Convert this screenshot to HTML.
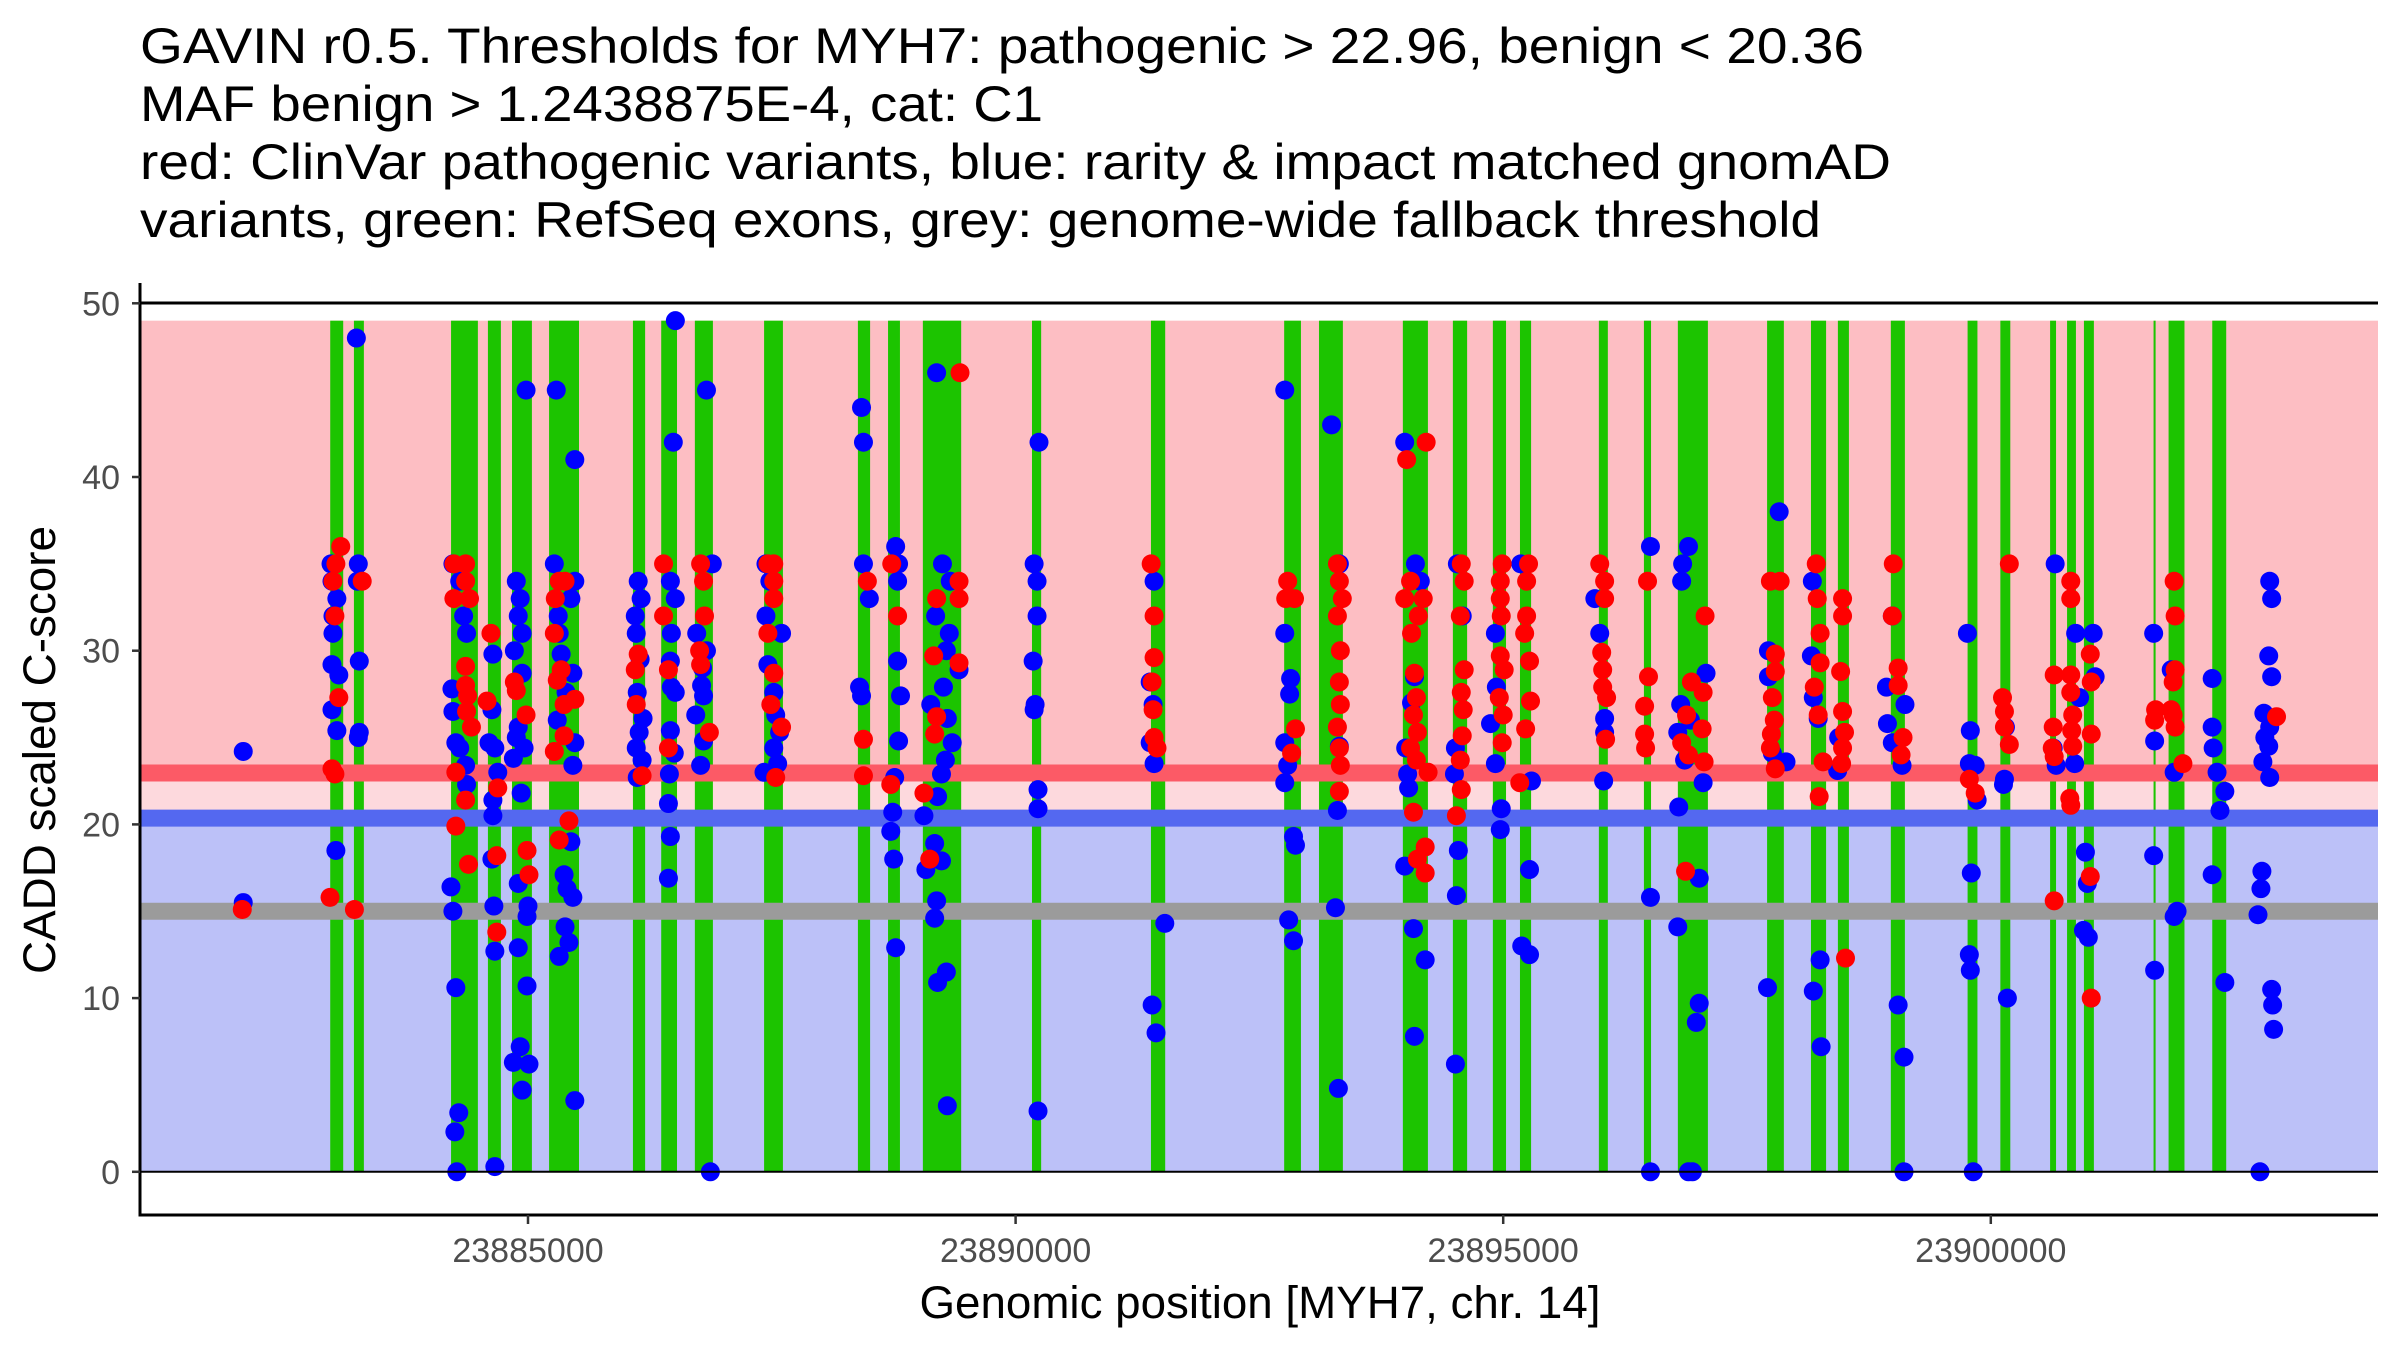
<!DOCTYPE html>
<html><head><meta charset="utf-8"><style>
html,body{margin:0;padding:0;background:#fff;}
svg{display:block;font-family:"Liberation Sans",Arial,sans-serif;}
</style></head><body>
<svg id="chart" width="2400" height="1350" viewBox="0 0 2400 1350" xmlns="http://www.w3.org/2000/svg">
<g font-size="50" fill="#000">
<text x="140" y="63" textLength="1724" lengthAdjust="spacingAndGlyphs">GAVIN r0.5. Thresholds for MYH7: pathogenic &gt; 22.96, benign &lt; 20.36</text>
<text x="140" y="121" textLength="903" lengthAdjust="spacingAndGlyphs">MAF benign &gt; 1.2438875E-4, cat: C1</text>
<text x="140" y="179" textLength="1751" lengthAdjust="spacingAndGlyphs">red: ClinVar pathogenic variants, blue: rarity &amp; impact matched gnomAD</text>
<text x="140" y="237" textLength="1681" lengthAdjust="spacingAndGlyphs">variants, green: RefSeq exons, grey: genome-wide fallback threshold</text>
</g>
<g id="bg"></g><g id="exons"></g><g id="lines"></g><g id="blue"></g><g id="red"></g><g id="axes"></g>
<text x="1260" y="1318" font-size="45" text-anchor="middle" fill="#000" textLength="681" lengthAdjust="spacingAndGlyphs">Genomic position [MYH7, chr. 14]</text>
<text x="0" y="0" font-size="45" text-anchor="middle" fill="#000" textLength="448" lengthAdjust="spacingAndGlyphs" transform="translate(55,750) rotate(-90)">CADD scaled C-score</text>
</svg>
<script>
const xTicks = [23885000, 23890000, 23895000, 23900000];
const yTicks = [0, 10, 20, 30, 40, 50];
const thresholds = [22.96, 20.36, 15];
const exonStart = [23882972,23883215,23884211,23884589,23884836,23885216,23886076,23886366,23886711,23887421,23888383,23888692,23889049,23890168,23891388,23892754,23893111,23893971,23894484,23894894,23895172,23895981,23896443,23896791,23897706,23898156,23898432,23898975,23899762,23900098,23900608,23900782,23900955,23901669,23901823,23902271];
const exonEnd   = [23883105,23883317,23884486,23884722,23885040,23885523,23886201,23886528,23886896,23887614,23888508,23888814,23889442,23890262,23891534,23892926,23893356,23894228,23894630,23895029,23895286,23896073,23896516,23897099,23897878,23898311,23898545,23899119,23899863,23900200,23900669,23900873,23901057,23901690,23901986,23902414];
const benign = [
[23882080,24.2],[23882080,15.5],
[23882980,35],[23882990,34],[23883040,33],[23883000,32],[23883000,31],[23882990,29.2],[23883060,28.6],[23882990,26.6],[23883040,25.4],[23883030,18.5],
[23883240,48],[23883260,35],[23883250,34],[23883270,29.4],[23883270,25.3],[23883260,25],
[23884230,35],[23884300,34],[23884340,32],[23884370,31],[23884220,27.8],[23884230,26.5],[23884260,24.7],[23884300,24.4],[23884360,23.4],[23884370,22.3],[23884210,16.4],[23884230,15],[23884260,10.6],[23884290,3.4],[23884250,2.3],[23884270,0],
[23884640,29.8],[23884630,26.6],[23884600,24.7],[23884660,24.4],[23884690,23],[23884640,21.4],[23884640,20.5],[23884630,18],[23884650,15.3],[23884660,12.7],[23884660,0.3],
[23884880,34],[23884920,33],[23884900,32],[23884940,31],[23884860,30],[23884940,28.7],[23884900,25.6],[23884880,25],[23884960,24.4],[23884850,23.8],[23884930,21.8],[23884900,16.6],[23885000,15.3],[23884990,14.7],[23884900,12.9],[23884990,10.7],[23884920,7.2],[23884850,6.3],[23885010,6.2],[23884940,4.7],[23884980,45],
[23885290,45],[23885480,41],[23885270,35],[23885480,34],[23885440,33],[23885310,32],[23885320,31],[23885340,29.8],[23885460,28.7],[23885390,27.6],[23885300,26],[23885480,24.7],[23885460,23.4],[23885440,19],[23885370,17.1],[23885400,16.3],[23885460,15.8],[23885380,14.1],[23885420,13.2],[23885320,12.4],[23885480,4.1],
[23886130,34],[23886160,33],[23886100,32],[23886110,31],[23886150,29.5],[23886120,27.6],[23886180,26.1],[23886140,25.3],[23886110,24.4],[23886170,23.7],[23886120,22.7],
[23886511,49],[23886490,42],[23886460,34],[23886510,33],[23886470,31],[23886460,29.4],[23886470,27.9],[23886510,27.6],[23886460,25.4],[23886500,24.1],[23886450,22.9],[23886440,21.2],[23886460,19.3],[23886440,16.9],
[23886830,45],[23886890,35],[23886730,31],[23886830,30],[23886790,29],[23886780,28],[23886800,27.4],[23886720,26.3],[23886800,24.8],[23886770,23.4],[23886870,0],
[23887440,35],[23887480,34],[23887440,32],[23887600,31],[23887460,29.2],[23887520,27.6],[23887540,26.3],[23887580,25.3],[23887520,24.4],[23887560,23.5],[23887420,23],
[23888420,44],[23888440,42],[23888440,35],[23888500,33],[23888400,27.9],[23888420,27.4],
[23888770,36],[23888800,35],[23888790,34],[23888790,29.4],[23888820,27.4],[23888800,24.8],[23888760,22.7],[23888740,20.7],[23888720,19.6],[23888750,18],[23888770,12.9],
[23889190,46],[23889250,35],[23889330,34],[23889180,32],[23889320,31],[23889290,30],[23889420,28.9],[23889260,27.9],[23889130,26.9],[23889300,26.1],[23889350,24.7],[23889280,23.7],[23889240,22.9],[23889200,21.6],[23889060,20.5],[23889170,18.9],[23889240,17.9],[23889080,17.4],[23889190,15.6],[23889170,14.6],[23889290,11.5],[23889200,10.9],[23889300,3.8],
[23890240,42],[23890190,35],[23890220,34],[23890220,32],[23890180,29.4],[23890200,26.9],[23890190,26.6],[23890230,22],[23890230,20.9],[23890230,3.5],
[23891420,34],[23891380,28.2],[23891410,26.9],[23891380,24.7],[23891420,23.5],[23891530,14.3],[23891400,9.6],[23891440,8],
[23892760,45],[23892760,31],[23892820,28.4],[23892810,27.5],[23892760,24.7],[23892790,23.4],[23892760,22.4],[23892850,19.3],[23892870,18.8],[23892800,14.5],[23892850,13.3],
[23893240,43],[23893280,15.2],[23893310,4.8],[23893320,35],[23893320,24.5],[23893300,20.8],
[23893990,42],[23894100,35],[23894150,34],[23894090,28.5],[23894060,27],[23894000,24.4],[23894020,22.9],[23894030,22.1],[23893990,17.6],[23894080,14],[23894200,12.2],[23894090,7.8],
[23894530,35],[23894580,32],[23894510,24.4],[23894500,22.9],[23894540,18.5],[23894520,15.9],[23894510,6.2],
[23894920,31],[23894930,27.9],[23894870,25.8],[23894920,23.5],[23894980,20.9],[23894970,19.7],
[23895180,35],[23895290,22.5],[23895270,17.4],[23895190,13],[23895270,12.5],
[23895940,33],[23895990,31],[23896040,26.1],[23896040,25.3],[23896030,22.5],
[23896510,36],[23896510,15.8],[23896510,0],
[23896900,36],[23896840,35],[23896830,34],[23897080,28.7],[23896820,26.9],[23896920,26],[23896790,25.3],[23896860,23.7],[23897050,22.4],[23896800,21],[23897010,16.9],[23896790,14.1],[23897010,9.7],[23896980,8.6],[23896900,0],[23896940,0],
[23897830,38],[23897720,30],[23897720,28.5],[23897760,24.1],[23897900,23.6],[23897710,10.6],
[23898170,34],[23898160,29.7],[23898180,27.3],[23898230,26.1],[23898250,12.2],[23898180,10.4],[23898260,7.2],
[23898440,25],[23898430,23.1],
[23898990,32],[23898930,27.9],[23899120,26.9],[23898940,25.8],[23898990,24.7],[23899090,23.4],[23899050,9.6],[23899110,6.6],[23899110,0],
[23899760,31],[23899790,25.4],[23899780,23.5],[23899840,23.4],[23899860,21.4],[23899800,17.2],[23899780,12.5],[23899790,11.6],[23899820,0],
[23900150,25.6],[23900140,22.6],[23900130,22.3],[23900170,10],
[23900660,35],[23900640,24.4],[23900670,23.4],
[23900870,31],[23900910,27.3],[23900860,23.5],
[23901050,31],[23901070,28.5],[23900970,18.4],[23900990,16.6],[23900950,13.9],[23901000,13.5],
[23901670,31],[23901680,24.8],[23901670,18.2],[23901680,11.6],
[23901850,28.9],[23901880,23],[23901910,15],[23901880,14.7],
[23902270,28.4],[23902270,25.6],[23902280,24.4],[23902320,23],[23902400,21.9],[23902350,20.8],[23902270,17.1],[23902400,10.9],
[23902860,34],[23902880,33],[23902850,29.7],[23902880,28.5],[23902800,26.4],[23902860,25.6],[23902810,25],[23902850,24.5],[23902790,23.6],[23902860,22.7],[23902780,17.3],[23902770,16.3],[23902740,14.8],[23902880,10.5],[23902890,9.6],[23902900,8.2],[23902760,0]
];
const pathogenic = [
[23882070,15.1],
[23883080,36],[23883030,35],[23883000,34],[23883020,32],[23883060,27.3],[23882990,23.2],[23883020,22.9],[23882970,15.8],
[23883300,34],[23883220,15.1],
[23884240,35],[23884360,35],[23884360,34],[23884240,33],[23884400,33],[23884360,29.1],[23884360,28],[23884380,27.4],[23884370,26.5],[23884420,25.6],[23884260,23],[23884360,21.4],[23884260,19.9],[23884390,17.7],
[23884620,31],[23884580,27.1],[23884690,22.1],[23884680,18.2],[23884680,13.8],
[23884860,28.2],[23884880,27.7],[23884980,26.3],[23884990,18.5],[23885010,17.1],
[23885320,34],[23885380,34],[23885280,33],[23885270,31],[23885340,28.9],[23885300,28.3],[23885480,27.2],[23885370,26.9],[23885370,25.1],[23885270,24.2],[23885420,20.2],[23885320,19.1],
[23886130,29.8],[23886100,28.9],[23886110,26.9],[23886170,22.8],
[23886390,35],[23886390,32],[23886440,28.9],[23886440,24.4],
[23886770,35],[23886800,34],[23886810,32],[23886760,30],[23886770,29.2],[23886860,25.3],
[23887460,35],[23887520,35],[23887520,34],[23887520,33],[23887460,31],[23887520,28.7],[23887490,26.9],[23887600,25.6],[23887540,22.7],
[23888480,34],[23888440,24.9],[23888440,22.8],
[23888730,35],[23888790,32],[23888720,22.3],
[23889430,46],[23889420,34],[23889190,33],[23889420,33],[23889160,29.7],[23889420,29.3],[23889190,26.2],[23889170,25.2],[23889060,21.8],[23889120,18],
[23891390,35],[23891420,32],[23891420,29.6],[23891400,28.2],[23891410,26.6],[23891420,25],[23891450,24.4],
[23892790,34],[23892770,33],[23892860,33],[23892870,25.5],[23892830,24.1],
[23893300,35],[23893320,34],[23893350,33],[23893300,32],[23893330,30],[23893320,28.2],[23893330,26.9],[23893300,25.6],[23893320,24.4],[23893330,23.4],[23893320,21.9],
[23894210,42],[23894010,41],[23894050,34],[23893990,33],[23894180,33],[23894130,32],[23894060,31],[23894090,28.7],[23894110,27.3],[23894080,26.3],[23894120,25.3],[23894050,24.4],[23894110,23.7],[23894230,23],[23894080,20.7],[23894200,18.7],[23894120,18],[23894200,17.2],
[23894570,35],[23894600,34],[23894560,32],[23894600,28.9],[23894570,27.6],[23894590,26.6],[23894580,25.1],[23894560,23.7],[23894570,22],[23894520,20.5],
[23894990,35],[23894970,34],[23894970,33],[23894980,32],[23894970,29.7],[23895010,28.9],[23894960,27.3],[23895000,26.3],[23894990,24.7],
[23895260,35],[23895240,34],[23895240,32],[23895220,31],[23895270,29.4],[23895280,27.1],[23895230,25.5],[23895170,22.4],
[23895990,35],[23896040,34],[23896040,33],[23896010,29.9],[23896020,28.9],[23896020,27.9],[23896060,27.3],[23896050,24.9],
[23896480,34],[23896490,28.5],[23896450,26.8],[23896450,25.2],[23896460,24.4],
[23897070,32],[23896930,28.2],[23897050,27.6],[23896880,26.3],[23897040,25.5],[23896830,24.7],[23896900,24],[23897060,23.6],[23896870,17.3],
[23897740,34],[23897840,34],[23897790,29.8],[23897790,28.8],[23897760,27.3],[23897780,26],[23897750,25.2],[23897740,24.4],[23897790,23.2],
[23898210,35],[23898220,33],[23898250,31],[23898250,29.3],[23898190,27.9],[23898230,26.3],[23898280,23.6],[23898240,21.6],
[23898480,33],[23898480,32],[23898460,28.8],[23898480,26.5],[23898500,25.3],[23898480,24.4],[23898470,23.5],[23898510,12.3],
[23899000,35],[23898990,32],[23899050,29],[23899050,28],[23899100,25],[23899080,24],
[23899780,22.6],[23899840,21.8],
[23900190,35],[23900120,27.3],[23900140,26.5],[23900140,25.6],[23900190,24.6],
[23900650,28.6],[23900640,25.6],[23900630,24.4],[23900650,23.9],[23900650,15.6],
[23900820,34],[23900820,33],[23900820,28.6],[23900820,27.6],[23900840,26.3],[23900830,25.4],[23900840,24.5],[23900810,21.5],[23900820,21.1],
[23901020,29.8],[23901030,28.2],[23901030,25.2],[23901020,17],[23901030,10],
[23901690,26.6],[23901680,26],
[23901880,34],[23901890,32],[23901890,28.9],[23901870,28.2],[23901850,26.6],[23901870,26.3],[23901890,25.6],[23901970,23.5],
[23902930,26.2]
];
const NS='http://www.w3.org/2000/svg';
const L=140, R=2378, T=303, B=1215;
function xs(p){return 528+(p-23885000)*487.6/5000;}
function ys(v){return 1171.8-v*17.37;}
function mk(tag,attrs,parent){const e=document.createElementNS(NS,tag);for(const k in attrs)e.setAttribute(k,attrs[k]);parent.appendChild(e);return e;}
const bg=document.getElementById('bg');
let r;
r=mk('rect',{x:L,y:ys(49),width:R-L,height:ys(22.96)-ys(49),fill:'#fdbec3'},bg);


r=mk('rect',{x:L,y:ys(22.96),width:R-L,height:ys(20.36)-ys(22.96),fill:'#fdd9dd'},bg);


r=mk('rect',{x:L,y:ys(20.36),width:R-L,height:ys(0)-ys(20.36),fill:'#bcc1f8'},bg);


const ex=document.getElementById('exons');
for(let i=0;i<exonStart.length;i++){
  const a=xs(exonStart[i]), b=xs(exonEnd[i]);
  const e=mk('rect',{x:a,y:ys(49),width:Math.max(b-a,2),height:ys(0)-ys(49),fill:'#1cc400'},ex);
  
  
}
const ln=document.getElementById('lines');
const tcols=['#fc5a66','#5468f0','#9b9b9b'];
const tnames=['pathogenic-threshold-line','benign-threshold-line','fallback-threshold-line'];
thresholds.forEach((t,i)=>{
  const e=mk('line',{x1:L,x2:R,y1:ys(t),y2:ys(t),stroke:tcols[i],'stroke-width':17},ln);
  
  
});
const bl=document.getElementById('blue');
benign.forEach(d=>{
  const c=mk('circle',{cx:xs(d[0]),cy:ys(d[1]),r:9.5,fill:'#0000ff'},bl);
  
  
});
const rd=document.getElementById('red');
pathogenic.forEach(d=>{
  const c=mk('circle',{cx:xs(d[0]),cy:ys(d[1]),r:9.5,fill:'#ff0000'},rd);
  
  
});
const ax=document.getElementById('axes');
let e;
e=mk('line',{x1:L,x2:R,y1:ys(0),y2:ys(0),stroke:'#000','stroke-width':2},ax);


e=mk('line',{x1:L,x2:R,y1:T,y2:T,stroke:'#000','stroke-width':3},ax);


e=mk('line',{x1:L,x2:L,y1:283,y2:B+1.5,stroke:'#000','stroke-width':3},ax);


e=mk('line',{x1:L-1.5,x2:R,y1:B,y2:B,stroke:'#000','stroke-width':3},ax);


yTicks.forEach(v=>{
  const t=mk('line',{x1:L-8,x2:L,y1:ys(v),y2:ys(v),stroke:'#333','stroke-width':2.5},ax);
  
  
  const tx=mk('text',{x:L-20,y:ys(v)+12,'font-size':34,'text-anchor':'end',fill:'#4d4d4d'},ax);
  tx.textContent=v;
  
  
});
xTicks.forEach(v=>{
  const t=mk('line',{x1:xs(v),x2:xs(v),y1:B,y2:B+9,stroke:'#333','stroke-width':2.5},ax);
  
  
  const tx=mk('text',{x:xs(v),y:1262,'font-size':34,'text-anchor':'middle',fill:'#4d4d4d'},ax);
  tx.textContent=v;
  
  
});
</script>
</body></html>
